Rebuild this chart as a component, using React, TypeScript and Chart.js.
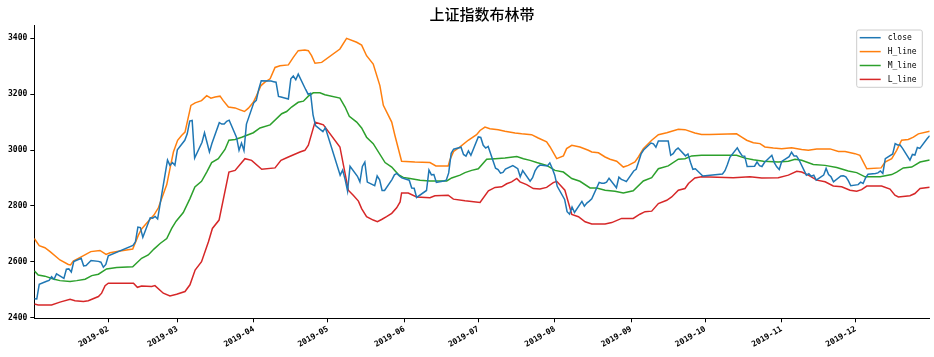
import React, { useEffect, useRef } from "react";
import { Chart, registerables } from "chart.js";

Chart.register(...registerables);

const TITLE = "上证指数布林带";
const seriesNames = ["close", "H_line", "M_line", "L_line"];
const seriesColors = ["#1f77b4", "#ff7f0e", "#2ca02c", "#d62728"];
const yTicks = [2400, 2600, 2800, 3000, 3200, 3400];
const xTickDates = ["02-01", "03-01", "04-01", "05-01", "06-01", "07-01", "08-01", "09-01", "10-01", "11-01", "12-01"];
const xTickLabels = ["2019-02", "2019-03", "2019-04", "2019-05", "2019-06", "2019-07", "2019-08", "2019-09", "2019-10", "2019-11", "2019-12"];

// close: trading day (MM-DD of 2019) and value
const closeDates = [
  "01-02", "01-03", "01-04", "01-07", "01-08", "01-09", "01-10", "01-11", "01-14", "01-15", "01-16", "01-17", "01-18", "01-21", "01-22", "01-23", "01-24", "01-25", "01-28", "01-29", "01-30", "01-31",
  "02-01", "02-11", "02-12", "02-13", "02-14", "02-15", "02-18", "02-19", "02-20", "02-21", "02-22", "02-25", "02-26", "02-27", "02-28",
  "03-01", "03-04", "03-05", "03-06", "03-07", "03-08", "03-11", "03-12", "03-13", "03-14", "03-15", "03-18", "03-19", "03-20", "03-21", "03-22", "03-25", "03-26", "03-27", "03-28", "03-29",
  "04-01", "04-02", "04-03", "04-04", "04-08", "04-09", "04-10", "04-11", "04-12", "04-15", "04-16", "04-17", "04-18", "04-19", "04-22", "04-23", "04-24", "04-25", "04-26", "04-29", "04-30",
  "05-06", "05-07", "05-08", "05-09", "05-10", "05-13", "05-14", "05-15", "05-16", "05-17", "05-20", "05-21", "05-22", "05-23", "05-24", "05-27", "05-28", "05-29", "05-30", "05-31",
  "06-03", "06-04", "06-05", "06-06", "06-10", "06-11", "06-12", "06-13", "06-14", "06-17", "06-18", "06-19", "06-20", "06-21", "06-24", "06-25", "06-26", "06-27", "06-28",
  "07-01", "07-02", "07-03", "07-04", "07-05", "07-08", "07-09", "07-10", "07-11", "07-12", "07-15", "07-16", "07-17", "07-18", "07-19", "07-22", "07-23", "07-24", "07-25", "07-26", "07-29", "07-30", "07-31",
  "08-01", "08-02", "08-05", "08-06", "08-07", "08-08", "08-09", "08-12", "08-13", "08-14", "08-15", "08-16", "08-19", "08-20", "08-21", "08-22", "08-23", "08-26", "08-27", "08-28", "08-29", "08-30",
  "09-02", "09-03", "09-04", "09-05", "09-06", "09-09", "09-10", "09-11", "09-12", "09-16", "09-17", "09-18", "09-19", "09-20", "09-23", "09-24", "09-25", "09-26", "09-27", "09-30",
  "10-08", "10-09", "10-10", "10-11", "10-14", "10-15", "10-16", "10-17", "10-18", "10-21", "10-22", "10-23", "10-24", "10-25", "10-28", "10-29", "10-30", "10-31",
  "11-01", "11-04", "11-05", "11-06", "11-07", "11-08", "11-11", "11-12", "11-13", "11-14", "11-15", "11-18", "11-19", "11-20", "11-21", "11-22", "11-25", "11-26", "11-27", "11-28", "11-29",
  "12-02", "12-03", "12-04", "12-05", "12-06", "12-09", "12-10", "12-11", "12-12", "12-13", "12-16", "12-17", "12-18", "12-19", "12-20", "12-23", "12-24", "12-25", "12-26", "12-27", "12-30", "12-31",
];
const closeValues = [
  2467, 2466, 2519, 2530, 2533, 2546, 2537, 2556, 2540, 2573, 2574, 2563, 2600, 2612, 2585, 2586, 2595, 2604, 2601, 2598, 2580, 2590,
  2621, 2658, 2671, 2724, 2722, 2687, 2757, 2756, 2762, 2753, 2806, 2964, 2945, 2955, 2945,
  3001, 3035, 3058, 3104, 3106, 2971, 3028, 3062, 3028, 2993, 3023, 3098, 3093, 3093, 3103, 3107, 3045, 2999, 3025, 2998, 3093,
  3170, 3178, 3218, 3248, 3247, 3245, 3243, 3192, 3190, 3183, 3255, 3265, 3252, 3272, 3217, 3200, 3203, 3126, 3088, 3066, 3080,
  2910, 2928, 2895, 2853, 2942, 2906, 2886, 2941, 2957, 2885, 2872, 2907, 2893, 2855, 2855, 2894, 2911, 2916, 2907, 2900,
  2892, 2864, 2863, 2830, 2855, 2928, 2911, 2912, 2884, 2889, 2892, 2918, 2988, 3003, 3010, 2984, 2978, 2997, 2981,
  3047, 3045, 3017, 3007, 3013, 2935, 2930, 2917, 2920, 2932, 2944, 2939, 2933, 2904, 2926, 2888, 2901, 2925, 2939, 2946, 2943, 2954, 2934,
  2910, 2870, 2823, 2779, 2770, 2796, 2776, 2816, 2799, 2810, 2817, 2825, 2884, 2881, 2881, 2885, 2899, 2865, 2903, 2895, 2891, 2887,
  2925, 2931, 2958, 2986, 3000, 3025, 3022, 3010, 3032, 3032, 2981, 2987, 3000, 3007, 2979, 2986, 2956, 2931, 2933, 2907,
  2914, 2926, 2948, 2974, 3008, 2992, 2979, 2978, 2941, 2942, 2957, 2944, 2941, 2955, 2981, 2955, 2940, 2930,
  2959, 2976, 2992, 2979, 2979, 2965, 2910, 2915, 2906, 2910, 2892, 2910, 2934, 2912, 2904, 2886, 2907, 2908, 2904, 2890, 2872,
  2876, 2885, 2880, 2900, 2913, 2916, 2918, 2925, 2916, 2969, 2986, 3023, 3018, 3018, 3006, 2964, 2984, 2982, 3009, 3006, 3041, 3051,
];

// bands: day of year (Jan 1 = 1) and value, read at the line's vertices
const hDays = [2, 4, 6.3, 8.4, 12.4, 15.8, 16.7, 17.8, 21.2, 24.9, 28.6, 31.1, 32.7, 36.1, 41.9, 44.2, 45.5, 46.9, 49.2, 50.5, 52.3, 55.7, 57, 58.4, 60.1, 61.7, 63.1, 65.5, 67.2, 69.8, 71.9, 73.6, 75.3, 77.3, 78.6, 80.7, 83.4, 85.4, 87.2, 88.8, 90.8, 92.1, 93.9, 95.5, 97.6, 99.6, 101.6, 105, 107, 109, 111.7, 113.1, 114.4, 115.8, 118.5, 125.9, 128.6, 132.7, 134.7, 136.7, 139.4, 142.1, 143.5, 146.9, 148.2, 150.9, 156.3, 162.4, 164.8, 169.8, 170.5, 172, 174.6, 177.9, 181.3, 182.7, 184.7, 186.7, 190.1, 192.8, 196.9, 199.6, 203.6, 206.3, 209.7, 211.1, 213.8, 216.5, 217.8, 219.9, 223.2, 226.6, 228, 230.7, 233.4, 235.4, 238.1, 240.8, 242.8, 245.5, 246.9, 248.9, 252.3, 255, 258.4, 263.1, 265.8, 269.8, 272.5, 275.9, 286.7, 288.8, 290.8, 293.5, 296.2, 298.2, 301.6, 305, 309, 313.1, 315.8, 319.2, 324.6, 328, 330.7, 334.7, 336.7, 339.5, 345.3, 346.9, 349.6, 351.6, 353.6, 356.3, 358.4, 360.4, 365];
const hValues = [2683, 2657, 2650, 2636, 2606, 2590, 2588, 2602, 2618, 2636, 2640, 2626, 2632, 2637, 2645, 2695, 2717, 2731, 2755, 2767, 2793, 2876, 2933, 2993, 3035, 3052, 3064, 3160, 3169, 3177, 3195, 3186, 3190, 3193, 3177, 3154, 3151, 3144, 3138, 3150, 3171, 3195, 3231, 3243, 3255, 3296, 3302, 3305, 3332, 3356, 3358, 3356, 3338, 3311, 3314, 3362, 3400, 3386, 3376, 3338, 3308, 3231, 3160, 3100, 3052, 2960, 2957, 2955, 2943, 2943, 2965, 2995, 3011, 3035, 3055, 3070, 3082, 3076, 3073, 3067, 3061, 3058, 3055, 3043, 3029, 3011, 2969, 2979, 3005, 3017, 3011, 2999, 2993, 2990, 2975, 2967, 2960, 2939, 2945, 2957, 2975, 3005, 3035, 3055, 3062, 3074, 3073, 3061, 3056, 3056, 3058, 3046, 3035, 3026, 3023, 3011, 3007, 3005, 3008, 3002, 2999, 3004, 3004, 2995, 2995, 2987, 2981, 2933, 2936, 2957, 2969, 2999, 3035, 3038, 3046, 3058, 3067];

const mDays = [2, 3.6, 6.3, 9.7, 12.4, 16.5, 19.2, 22.6, 25.3, 28, 31.3, 35.4, 41.9, 45.5, 48.2, 50.5, 53, 55.7, 57.7, 59.5, 62.4, 65.1, 67.1, 69.8, 71.9, 73.9, 76.6, 79.3, 80.9, 83.4, 86.1, 90.8, 93.5, 97.6, 102.3, 104.3, 106.3, 109, 111.1, 113.1, 115.1, 117.8, 119.8, 125.9, 128, 129.7, 132.7, 134.7, 136.7, 139.4, 144.2, 146.9, 149.6, 151.6, 154.3, 158.4, 162.4, 169.2, 171.2, 174.6, 176.6, 179.3, 182, 185.4, 188.8, 192.8, 197.6, 200.3, 203, 205.7, 209.7, 213.1, 216.5, 219.9, 223.2, 227.3, 230, 233.4, 237.4, 240.8, 244.8, 248.9, 252.3, 255, 259, 263.1, 265.8, 268.5, 272.5, 286.7, 290.1, 293.5, 297.6, 303.6, 307.7, 310.4, 313.1, 317.8, 322.6, 327.3, 332, 335.4, 338.8, 344.9, 349.6, 351.6, 354.3, 357.7, 361.1, 365];
const mValues = [2567, 2552, 2548, 2538, 2532, 2529, 2532, 2537, 2550, 2555, 2574, 2579, 2582, 2612, 2624, 2645, 2665, 2683, 2719, 2745, 2776, 2826, 2868, 2888, 2921, 2955, 2969, 3002, 3035, 3038, 3046, 3062, 3079, 3090, 3130, 3138, 3154, 3171, 3175, 3193, 3205, 3205, 3198, 3186, 3154, 3121, 3100, 3079, 3046, 3023, 2955, 2939, 2912, 2902, 2898, 2892, 2889, 2889, 2900, 2910, 2919, 2927, 2933, 2967, 2969, 2971, 2977, 2969, 2963, 2955, 2945, 2927, 2921, 2898, 2888, 2864, 2864, 2856, 2852, 2846, 2854, 2889, 2901, 2933, 2943, 2967, 2969, 2979, 2981, 2981, 2971, 2965, 2960, 2957, 2960, 2967, 2963, 2948, 2945, 2937, 2925, 2919, 2904, 2904, 2912, 2921, 2936, 2939, 2957, 2964];

const lDays = [2, 3.6, 9, 12.4, 16.5, 18.5, 21.9, 23.9, 28, 29.3, 30.7, 32, 42.2, 43.8, 45.5, 49.6, 50.9, 54.3, 57, 59.7, 63.1, 65.1, 67.2, 69.8, 72.6, 74.2, 76.9, 80.9, 83.4, 87.4, 90.1, 94.2, 99.6, 102, 105, 109.7, 111.7, 113.1, 115.8, 117.8, 119.2, 125.9, 129.3, 131.3, 133.4, 134.7, 136.7, 139.4, 141.1, 142.8, 144.8, 146.9, 148.9, 150.3, 150.9, 153.6, 157, 162.4, 164.4, 169.8, 171.9, 176.6, 182.7, 186.1, 188.8, 191.5, 193.5, 195.5, 197.6, 198.9, 201.6, 204.3, 207, 209.7, 212.4, 213.8, 217.1, 219.9, 222.6, 225.3, 228, 233.4, 236.1, 240.1, 244.8, 247.5, 249.6, 252.3, 255, 258.4, 260.4, 263.1, 265.8, 267.2, 269.8, 272.5, 285.4, 292.1, 296.9, 303.6, 307.7, 311.1, 313.1, 315.8, 319.2, 322.6, 325.9, 329.3, 332.7, 335.4, 337.4, 339.5, 345.5, 348.9, 350.9, 352.3, 357, 359, 361.1, 365];
const lValues = [2448, 2445, 2445, 2455, 2465, 2460, 2457, 2460, 2475, 2487, 2514, 2523, 2523, 2508, 2513, 2511, 2514, 2487, 2477, 2483, 2493, 2517, 2570, 2600, 2671, 2719, 2749, 2921, 2927, 2969, 2963, 2931, 2936, 2963, 2975, 2993, 2999, 3017, 3100, 3094, 3090, 3011, 2856, 2838, 2817, 2790, 2761, 2749, 2743, 2751, 2761, 2773, 2793, 2814, 2846, 2846, 2832, 2829, 2836, 2838, 2824, 2818, 2812, 2854, 2866, 2868, 2879, 2886, 2898, 2886, 2876, 2862, 2860, 2866, 2883, 2888, 2856, 2769, 2761, 2743, 2735, 2735, 2740, 2755, 2755, 2770, 2779, 2781, 2808, 2820, 2832, 2856, 2862, 2880, 2900, 2904, 2901, 2904, 2900, 2901, 2910, 2924, 2921, 2910, 2892, 2886, 2871, 2868, 2856, 2852, 2858, 2871, 2871, 2860, 2838, 2832, 2836, 2844, 2862, 2867];

function dayOfYear(md: string): number {
  const [m, d] = md.split("-").map(Number);
  return (Date.UTC(2019, m - 1, d) - Date.UTC(2019, 0, 1)) / 86400000 + 1;
}

function pairs(xs: number[], ys: number[]) {
  return xs.map((x, i) => ({ x, y: ys[i] }));
}

const TICK_FONT = { family: "'DejaVu Sans Mono', monospace", size: 8, weight: "bold" as const };

const overlayPlugin = {
  id: "overlay",
  afterDraw(chart: any) {
    const { ctx, chartArea } = chart;
    ctx.save();
    // title
    ctx.fillStyle = "#000";
    ctx.font = "500 15px 'Noto Sans CJK SC', sans-serif";
    ctx.textAlign = "center";
    ctx.textBaseline = "middle";
    ctx.fillText(TITLE, (chartArea.left + chartArea.right) / 2, 14);

    // legend
    const bx = chartArea.right - 73;
    const by = chartArea.top + 5;
    const bw = 65.6;
    const bh = 57.3;
    const r = 2;
    ctx.beginPath();
    ctx.moveTo(bx + r, by);
    ctx.lineTo(bx + bw - r, by);
    ctx.quadraticCurveTo(bx + bw, by, bx + bw, by + r);
    ctx.lineTo(bx + bw, by + bh - r);
    ctx.quadraticCurveTo(bx + bw, by + bh, bx + bw - r, by + bh);
    ctx.lineTo(bx + r, by + bh);
    ctx.quadraticCurveTo(bx, by + bh, bx, by + bh - r);
    ctx.lineTo(bx, by + r);
    ctx.quadraticCurveTo(bx, by, bx + r, by);
    ctx.closePath();
    ctx.fillStyle = "rgba(255,255,255,0.8)";
    ctx.fill();
    ctx.strokeStyle = "#cccccc";
    ctx.lineWidth = 1;
    ctx.stroke();

    ctx.font = "8px 'DejaVu Sans Mono', monospace";
    ctx.textAlign = "left";
    ctx.textBaseline = "middle";
    chart.data.datasets.forEach((ds: any, i: number) => {
      const yy = by + 7.7 + i * 13.9;
      ctx.strokeStyle = ds.borderColor;
      ctx.lineWidth = 1.5;
      ctx.beginPath();
      ctx.moveTo(bx + 3, yy);
      ctx.lineTo(bx + 24, yy);
      ctx.stroke();
      ctx.fillStyle = "#000";
      ctx.fillText(ds.label, bx + 31, yy + 0.5);
    });
    ctx.restore();
  },
};

export default function App() {
  const ref = useRef<HTMLCanvasElement | null>(null);

  useEffect(() => {
    if (!ref.current) return;
    const closeDays = closeDates.map(dayOfYear);
    const seriesData = [
      pairs(closeDays, closeValues),
      pairs(hDays, hValues),
      pairs(mDays, mValues),
      pairs(lDays, lValues),
    ];
    const xTickValues = xTickDates.map(dayOfYear);

    const chart = new Chart(ref.current, {
      type: "line",
      data: {
        datasets: seriesData.map((data, i) => ({
          label: seriesNames[i],
          data,
          borderColor: seriesColors[i],
          backgroundColor: seriesColors[i],
          borderWidth: 1.5,
          pointRadius: 0,
          pointHoverRadius: 0,
          tension: 0,
          fill: false,
        })),
      },
      options: {
        animation: false,
        responsive: false,
        devicePixelRatio: 1,
        layout: { padding: { top: 25, right: 4.3, left: 0, bottom: 0 } },
        plugins: {
          legend: { display: false },
          title: { display: false },
          tooltip: { enabled: false },
        },
        scales: {
          x: {
            type: "linear",
            min: 2,
            max: 365,
            afterFit(scale: any) {
              scale.height = 38.7;
            },
            afterBuildTicks(scale: any) {
              scale.ticks = xTickValues.map((v) => ({ value: v }));
            },
            ticks: {
              autoSkip: false,
              minRotation: 30,
              maxRotation: 30,
              padding: 2,
              color: "#000",
              font: TICK_FONT,
              callback: (_v: any, i: number) => xTickLabels[i],
            },
            grid: {
              display: true,
              drawOnChartArea: false,
              drawTicks: true,
              tickLength: 4,
              color: "#000",
              lineWidth: 1,
            },
            border: { display: true, color: "#000", width: 1 },
          },
          y: {
            type: "linear",
            min: 2397,
            max: 3448,
            afterFit(scale: any) {
              scale.width = 34.3;
            },
            afterBuildTicks(scale: any) {
              scale.ticks = yTicks.map((v) => ({ value: v }));
            },
            ticks: {
              padding: 3,
              color: "#000",
              font: TICK_FONT,
              callback: (v: any) => String(v),
            },
            grid: {
              display: true,
              drawOnChartArea: false,
              drawTicks: true,
              tickLength: 4,
              color: "#000",
              lineWidth: 1,
            },
            border: { display: true, color: "#000", width: 1 },
          },
        },
      },
      plugins: [overlayPlugin],
    });
    return () => chart.destroy();
  }, []);

  return (
    <div style={{ position: "fixed", left: 0, top: 0, width: 934, height: 357, background: "#fff" }}>
      <canvas ref={ref} width={934} height={357} style={{ display: "block" }} />
    </div>
  );
}
